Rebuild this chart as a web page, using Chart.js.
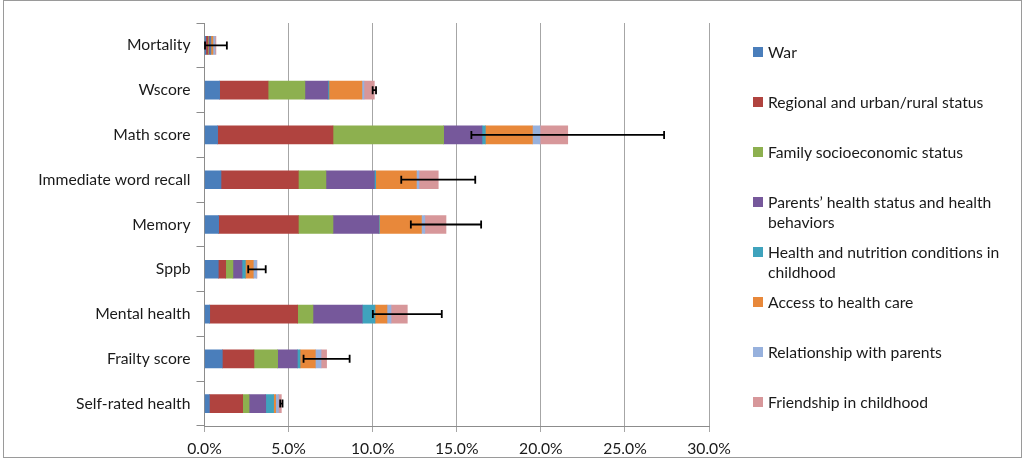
<!DOCTYPE html>
<html>
<head>
<meta charset="utf-8">
<script src="https://cdn.jsdelivr.net/npm/chart.js@4"></script>
<style>
	body { margin: 0; background: #fff; }
	#wrap { position: relative; width: 1025px; height: 462px; }
	#frame { position: absolute; left: 3px; top: 0px; width: 1017px; height: 456px; border: 1px solid #9a9a9a; pointer-events: none; }
	#legend { position: absolute; left: 0; top: 0; font-family: Lato, "Open Sans", sans-serif; font-size: 15.7px; color: #1a1a1a; }
	.item { position: absolute; left: 768px; width: 245px; line-height: 20px; }
	.box { position: absolute; left: -15px; top: 5px; width: 10px; height: 10px; }
</style>
</head>
<body>
<div id="wrap">
	<canvas id="chart" width="1025" height="462"></canvas>
	<div id="legend"></div>
	<div id="frame"></div>
</div>
<script>
const categories = ["Mortality", "Wscore", "Math score", "Immediate word recall", "Memory", "Sppb", "Mental health", "Frailty score", "Self-rated health"];

const seriesNames = ["War", "Regional and urban/rural status", "Family socioeconomic status",
	"Parents\u2019 health status and health behaviors", "Health and nutrition conditions in childhood",
	"Access to health care", "Relationship with parents", "Friendship in childhood"];

const seriesColors = ["#4a7ebb", "#b0433f", "#8db04f", "#76589b", "#3fa3bd", "#e8883a", "#97b1dd", "#d7979a"];

// percent contribution per category (top to bottom)
const war          = [0.08, 0.90, 0.78, 0.98, 0.84, 0.82, 0.31, 1.06, 0.29];
const regional     = [0.12, 2.88, 6.86, 4.60, 4.74, 0.44, 5.23, 1.88, 1.98];
const family       = [0.04, 2.19, 6.58, 1.64, 2.06, 0.43, 0.91, 1.41, 0.38];
const parents      = [0.10, 1.37, 2.28, 2.88, 2.72, 0.54, 2.93, 1.17, 0.99];
const nutrition    = [0.04, 0.06, 0.20, 0.08, 0.04, 0.20, 0.76, 0.16, 0.47];
const healthCare   = [0.12, 1.96, 2.80, 2.42, 2.50, 0.47, 0.71, 0.91, 0.12];
const relationship = [0.12, 0.12, 0.45, 0.15, 0.20, 0.20, 0.24, 0.34, 0.16];
const friendship   = [0.06, 0.62, 1.65, 1.15, 1.26, 0.02, 0.97, 0.33, 0.18];

// +/- error around the stacked total
const errors = [0.65, 0.10, 5.73, 2.20, 2.09, 0.52, 2.05, 1.37, 0.07];

const seriesValues = [war, regional, family, parents, nutrition, healthCare, relationship, friendship];

const datasets = seriesNames.map((name, i) => ({
	label: name,
	data: seriesValues[i],
	backgroundColor: seriesColors[i],
	borderWidth: 0,
	barThickness: 18
}));

const errorBars = {
	id: 'errorBars',
	afterDatasetsDraw(chart) {
		const ctx = chart.ctx;
		const x = chart.scales.x;
		const y = chart.scales.y;
		ctx.save();
		ctx.strokeStyle = '#000';
		ctx.lineWidth = 1.8;
		categories.forEach((c, i) => {
			let total = 0;
			seriesValues.forEach(s => { total += s[i]; });
			const x0 = x.getPixelForValue(Math.max(0, total - errors[i]));
			const x1 = x.getPixelForValue(total + errors[i]);
			const yc = y.getPixelForValue(i);
			ctx.beginPath();
			ctx.moveTo(x0, yc); ctx.lineTo(x1, yc);
			ctx.moveTo(x0, yc - 4); ctx.lineTo(x0, yc + 4);
			ctx.moveTo(x1, yc - 4); ctx.lineTo(x1, yc + 4);
			ctx.stroke();
		});
		ctx.restore();
	}
};

const font = { family: 'Lato, "Open Sans", sans-serif', size: 15.7 };

new Chart(document.getElementById('chart'), {
	type: 'bar',
	data: { labels: categories, datasets: datasets },
	plugins: [errorBars],
	options: {
		indexAxis: 'y',
		responsive: false,
		animation: false,
		layout: { padding: { top: 23, right: 316, bottom: 4, left: 0 } },
		plugins: { legend: { display: false }, tooltip: { enabled: false } },
		scales: {
			x: {
				stacked: true,
				min: 0,
				max: 30,
				ticks: { stepSize: 5, padding: 8, color: '#1a1a1a', font: font, callback: v => v.toFixed(1) + '%' },
				grid: { color: '#a6a6a6', lineWidth: 1, tickLength: 6 },
				border: { color: '#8c8c8c' },
				afterFit(scale) { scale.height = 32; }
			},
			y: {
				stacked: true,
				ticks: { padding: 6, color: '#1a1a1a', font: font },
				grid: { drawOnChartArea: false, tickLength: 8, color: '#8c8c8c' },
				border: { color: '#8c8c8c' },
				afterFit(scale) { scale.width = 204.5; }
			}
		}
	}
});

// legend as html text
const legend = document.getElementById('legend');
const legendTop = [42, 92, 142, 192, 242, 292, 342, 392];
seriesNames.forEach((name, i) => {
	const item = document.createElement('div');
	item.className = 'item';
	item.style.top = legendTop[i] + 'px';
	item.innerHTML = '<span class="box" style="background:' + seriesColors[i] + '"></span>' + name;
	legend.appendChild(item);
});
</script>
</body>
</html>
